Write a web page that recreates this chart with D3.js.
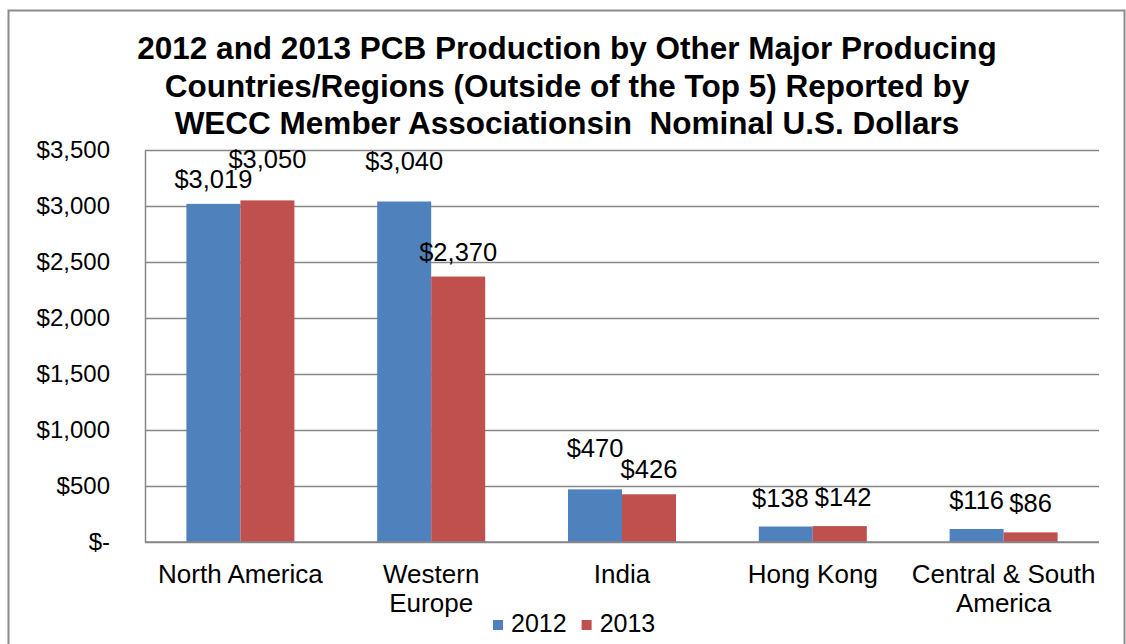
<!DOCTYPE html>
<html>
<head>
<meta charset="utf-8">
<script src="https://d3js.org/d3.v7.min.js"></script>
<style>
  body { margin: 0; background: #fff; }
  text { font-family: "Liberation Sans", Arial, sans-serif; fill: #000; }
</style>
</head>
<body>
<script>
/******************************************************************************/
/* DATA                                                                       */
/******************************************************************************/
var categories = ["North America", "Western Europe", "India", "Hong Kong", "Central & South America"];
var seriesNames = ["2012", "2013"];
var values2012 = [3019, 3040, 470, 138, 116];
var values2013 = [3050, 2370, 426, 142, 86];
var yTicks = [0, 500, 1000, 1500, 2000, 2500, 3000, 3500];
var titleLines = [
  "2012 and 2013 PCB Production by Other Major Producing",
  "Countries/Regions (Outside of the Top 5) Reported by",
  "WECC Member Associationsin  Nominal U.S. Dollars"
];

/******************************************************************************/
/* GLOBAL                                                                     */
/******************************************************************************/
var width  = 1126;
var height = 644;
var margin = {top: 150, right: 27, bottom: 102, left: 145};
var colors = ["#4F81BD", "#C0504D"];
var innerW = width - margin.left - margin.right;
var innerH = height - margin.top - margin.bottom;

var fmt = function(v) { return v === 0 ? "$-" : "$" + d3.format(",")(v); };

var svg = d3.select("body").append("svg")
  .attr("width", width)
  .attr("height", height);

// outer chart border
svg.append("rect")
  .attr("x", 8.5).attr("y", 10.5)
  .attr("width", 1116).attr("height", 700)
  .attr("fill", "none")
  .attr("stroke", "#8c8c8c")
  .attr("stroke-width", 2);

// title
svg.append("g").selectAll("text")
  .data(titleLines)
  .enter().append("text")
  .attr("x", 567)
  .attr("y", function(d, i) { return 59 + i * 37.5; })
  .attr("text-anchor", "middle")
  .style("font-size", "31.5px")
  .style("font-weight", "bold")
  .style("white-space", "pre")
  .text(function(d) { return d; });

var g = svg.append("g")
  .attr("transform", "translate(" + margin.left + "," + margin.top + ")");

/******************************************************************************/
/* SCALES                                                                     */
/******************************************************************************/
var x0 = d3.scaleBand().domain(categories).range([0, innerW]).padding(0);
var x1 = d3.scaleBand().domain(seriesNames)
  .range([x0.bandwidth() * 0.217, x0.bandwidth() * 0.783]).padding(0);
var y = d3.scaleLinear().domain([0, 3500]).range([innerH, 0]);

// gridlines
g.append("g")
  .call(d3.axisLeft(y).tickValues(yTicks).tickSize(-innerW).tickFormat(""))
  .call(function(s) {
    s.select(".domain").remove();
    s.selectAll("line").attr("stroke", "#878787").attr("stroke-width", 1.5);
  });

// y axis labels
g.append("g")
  .call(d3.axisLeft(y).tickValues(yTicks).tickSize(0).tickPadding(35).tickFormat(fmt))
  .call(function(s) {
    s.select(".domain").attr("stroke", "#878787").attr("stroke-width", 1.5);
    s.selectAll("text").style("font-size", "24px")
      .style("font-family", "'Liberation Sans', Arial, sans-serif").attr("fill", "#000");
  });

/******************************************************************************/
/* BARS                                                                       */
/******************************************************************************/
var rows = categories.map(function(c, i) {
  return {cat: c, vals: [
    {s: seriesNames[0], v: values2012[i]},
    {s: seriesNames[1], v: values2013[i]}
  ]};
});

var groups = g.selectAll(".grp")
  .data(rows)
  .enter().append("g")
  .attr("class", "grp")
  .attr("transform", function(d) { return "translate(" + x0(d.cat) + ",0)"; });

groups.selectAll("rect")
  .data(function(d) { return d.vals; })
  .enter().append("rect")
  .attr("x", function(d) { return x1(d.s); })
  .attr("width", x1.bandwidth())
  .attr("y", function(d) { return y(d.v); })
  .attr("height", function(d) { return innerH - y(d.v); })
  .attr("fill", function(d, i) { return colors[i]; });

// x axis line
g.append("line")
  .attr("x1", 0).attr("x2", innerW)
  .attr("y1", innerH).attr("y2", innerH)
  .attr("stroke", "#878787").attr("stroke-width", 1.5);

// data labels; nudge the pair apart when they collide
groups.each(function(d) {
  var grp = d3.select(this);
  var labels = d.vals.map(function(p) {
    return grp.append("text")
      .attr("x", x1(p.s) + x1.bandwidth() / 2)
      .attr("y", y(p.v) - 20)
      .attr("text-anchor", "middle")
      .style("font-size", "25.5px")
      .text(fmt(p.v));
  });
  var a = labels[0].node().getBBox(), b = labels[1].node().getBBox();
  var overlap = a.x + a.width - b.x;
  var dy = Math.abs(y(d.vals[0].v) - y(d.vals[1].v));
  if (overlap > 0) {
    if (dy < 2) {
      // bars level: spread sideways
      labels[0].attr("x", +labels[0].attr("x") - overlap / 2 - 4);
      labels[1].attr("x", +labels[1].attr("x") + overlap / 2 + 2);
    } else {
      // lift the taller bar's label
      var hi = d.vals[0].v >= d.vals[1].v ? 0 : 1;
      labels[1 - hi].attr("y", +labels[1 - hi].attr("y") + 4);
      labels[hi].attr("y", +labels[hi].attr("y") - 12);
    }
  }
});

// category labels with wrapping
var wrapW = 186;
categories.forEach(function(c) {
  var cx = x0(c) + x0.bandwidth() / 2;
  var t = g.append("text")
    .attr("x", cx)
    .attr("y", innerH + 41)
    .attr("text-anchor", "middle")
    .style("font-size", "26px");
  var words = c.split(" "), line = [];
  var ts = t.append("tspan").attr("x", cx).attr("dy", 0);
  words.forEach(function(w) {
    line.push(w);
    ts.text(line.join(" "));
    if (ts.node().getComputedTextLength() > wrapW && line.length > 1) {
      line.pop();
      ts.text(line.join(" "));
      line = [w];
      ts = t.append("tspan").attr("x", cx).attr("dy", 29).text(w);
    }
  });
});

/******************************************************************************/
/* LEGEND                                                                     */
/******************************************************************************/
var legend = svg.append("g").attr("transform", "translate(493,620)");
var lx = 0;
seriesNames.forEach(function(s, i) {
  legend.append("rect")
    .attr("x", lx).attr("y", 0)
    .attr("width", 10).attr("height", 10)
    .attr("fill", colors[i]);
  var t = legend.append("text")
    .attr("x", lx + 18).attr("y", 12)
    .style("font-size", "25px")
    .text(s);
  lx += 18 + t.node().getComputedTextLength() + 15;
});
</script>
</body>
</html>
